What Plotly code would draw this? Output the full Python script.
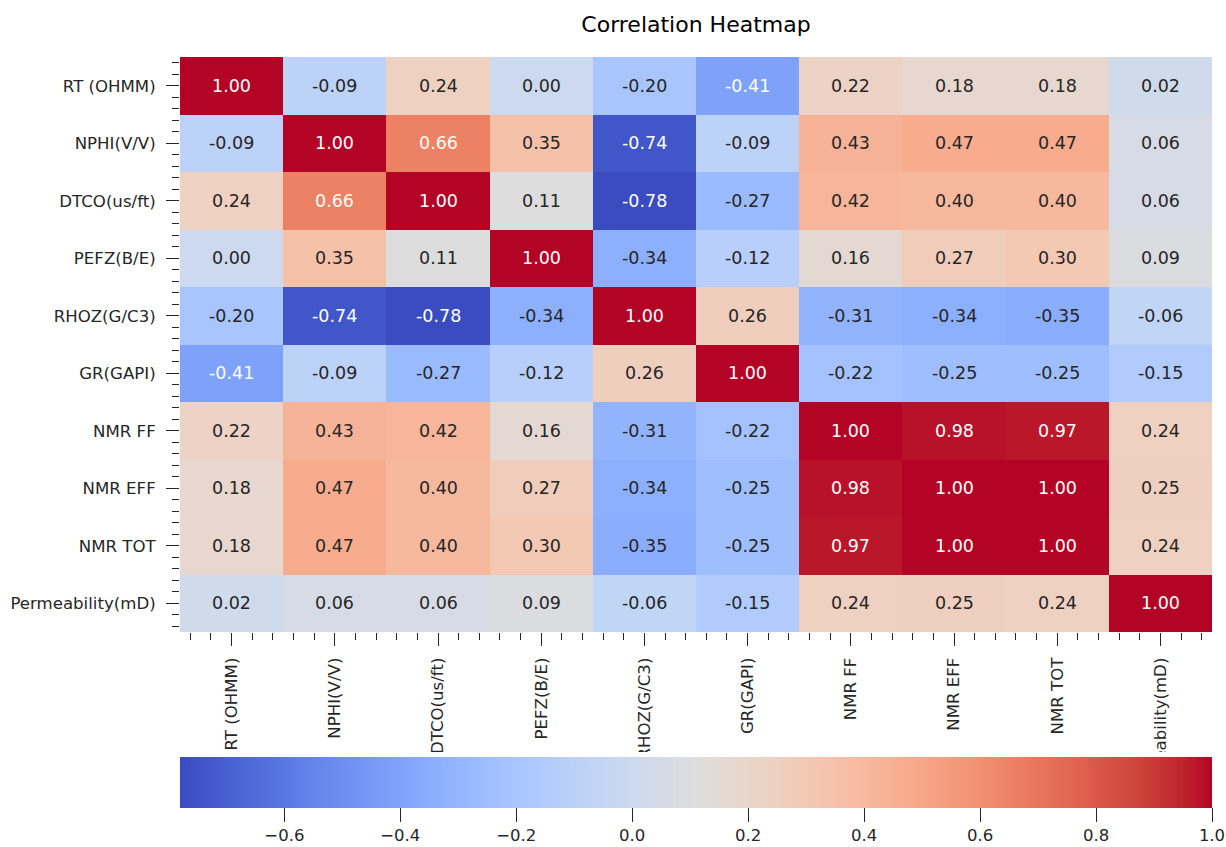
import plotly.graph_objects as go

labels = ["RT (OHMM)", "NPHI(V/V)", "DTCO(us/ft)", "PEFZ(B/E)", "RHOZ(G/C3)",
          "GR(GAPI)", "NMR FF", "NMR EFF", "NMR TOT", "Permeability(mD)"]

row_rt    = [1.00, -0.09, 0.24, 0.00, -0.20, -0.41, 0.22, 0.18, 0.18, 0.02]
row_nphi  = [-0.09, 1.00, 0.66, 0.35, -0.74, -0.09, 0.43, 0.47, 0.47, 0.06]
row_dtco  = [0.24, 0.66, 1.00, 0.11, -0.78, -0.27, 0.42, 0.40, 0.40, 0.06]
row_pefz  = [0.00, 0.35, 0.11, 1.00, -0.34, -0.12, 0.16, 0.27, 0.30, 0.09]
row_rhoz  = [-0.20, -0.74, -0.78, -0.34, 1.00, 0.26, -0.31, -0.34, -0.35, -0.06]
row_gr    = [-0.41, -0.09, -0.27, -0.12, 0.26, 1.00, -0.22, -0.25, -0.25, -0.15]
row_nmrff = [0.22, 0.43, 0.42, 0.16, -0.31, -0.22, 1.00, 0.98, 0.97, 0.24]
row_nmref = [0.18, 0.47, 0.40, 0.27, -0.34, -0.25, 0.98, 1.00, 1.00, 0.25]
row_nmrto = [0.18, 0.47, 0.40, 0.30, -0.35, -0.25, 0.97, 1.00, 1.00, 0.24]
row_perm  = [0.02, 0.06, 0.06, 0.09, -0.06, -0.15, 0.24, 0.25, 0.24, 1.00]

z = [row_rt, row_nphi, row_dtco, row_pefz, row_rhoz, row_gr,
     row_nmrff, row_nmref, row_nmrto, row_perm]

cbar_ticks = [-0.6, -0.4, -0.2, 0.0, 0.2, 0.4, 0.6, 0.8, 1.0]

# matplotlib-like coolwarm
cw = [(59, 76, 192), (68, 90, 204), (77, 104, 215), (87, 117, 225), (98, 130, 234),
      (108, 142, 241), (119, 154, 247), (130, 165, 251), (141, 176, 254),
      (152, 185, 255), (163, 194, 255), (174, 201, 253), (184, 208, 249),
      (194, 213, 244), (204, 217, 238), (213, 219, 230), (221, 221, 221),
      (229, 216, 209), (236, 211, 197), (241, 204, 185), (245, 196, 173),
      (247, 187, 160), (247, 177, 148), (247, 166, 135), (244, 154, 123),
      (241, 141, 111), (236, 127, 99), (229, 112, 88), (222, 96, 77),
      (213, 80, 66), (203, 62, 56), (192, 40, 47), (180, 4, 38)]
n = len(cw) - 1
colorscale = [[i / n, "rgb(%d,%d,%d)" % c] for i, c in enumerate(cw)]

zmin = min(min(r) for r in z)
zmax = max(max(r) for r in z)


def color_at(v):
    t = (v - zmin) / (zmax - zmin)
    t = max(0.0, min(1.0, t)) * n
    i = min(int(t), n - 1)
    f = t - i
    return [cw[i][k] + (cw[i + 1][k] - cw[i][k]) * f for k in range(3)]


def luminance(rgb):
    out = []
    for c in rgb:
        c = c / 255.0
        out.append(c / 12.92 if c <= 0.03928 else ((c + 0.055) / 1.055) ** 2.4)
    return 0.2126 * out[0] + 0.7152 * out[1] + 0.0722 * out[2]


TXT = "#262626"
FONT = "DejaVu Sans"

W, H = 1226, 847
L, R, T, B = 180, 14, 57, 215
plot_h = H - T - B


def py(px):
    return (H - B - px) / plot_h


xs = list(range(len(labels)))

fig = go.Figure()
fig.add_trace(go.Heatmap(
    z=z, x=xs, y=xs, colorscale=colorscale, zmin=zmin, zmax=zmax,
    xgap=0, ygap=0, hoverinfo="skip",
    colorbar=dict(
        orientation="h", x=0, xanchor="left", len=1, lenmode="fraction",
        y=py(756.5), yanchor="top", thickness=51, thicknessmode="pixels",
        xpad=0, ypad=0, outlinewidth=0,
        tickvals=cbar_ticks, tickformat=".1f", ticks="outside", ticklen=14,
        tickwidth=1.3, tickcolor=TXT,
        tickfont=dict(family=FONT, size=16.5, color=TXT),
    ),
))

annotations = []
for i, row in enumerate(z):
    for j, v in enumerate(row):
        col = TXT if luminance(color_at(v)) > 0.408 else "white"
        annotations.append(dict(
            x=xs[j], y=xs[i], xref="x", yref="y", text="%.2f" % v,
            showarrow=False, font=dict(family=FONT, size=17.5, color=col)))

axis_common = dict(
    tickvals=xs, ticktext=labels, showgrid=False, zeroline=False, showline=False,
    automargin=False,
    ticks="outside", ticklen=13, tickwidth=1.3, tickcolor=TXT,
    tickfont=dict(family=FONT, size=16.6, color=TXT),
    minor=dict(dtick=0.2, tick0=0, ticks="outside", ticklen=7, tickwidth=1.3,
               tickcolor=TXT, showgrid=False),
)

fig.update_layout(
    width=W, height=H, margin=dict(l=L, r=R, t=T, b=B, autoexpand=False),
    paper_bgcolor="white", plot_bgcolor="white",
    title=dict(text="Correlation Heatmap", x=(L + (W - R)) / 2 / W, xanchor="center",
               y=1 - 24 / H, yanchor="middle", automargin=False,
               font=dict(family=FONT, size=22, color="#000000")),
    xaxis=dict(range=[-0.5, 9.5], tickangle=-90, ticklabelstandoff=5, **axis_common),
    yaxis=dict(range=[9.5, -0.5], ticklabelstandoff=7, **axis_common),
    annotations=annotations,
    shapes=[dict(type="rect", xref="paper", yref="paper", layer="above",
                 x0=-0.05, x1=1.02, y0=py(H), y1=py(752),
                 fillcolor="white", line=dict(width=0))],
)

fig.write_html("out.html")
